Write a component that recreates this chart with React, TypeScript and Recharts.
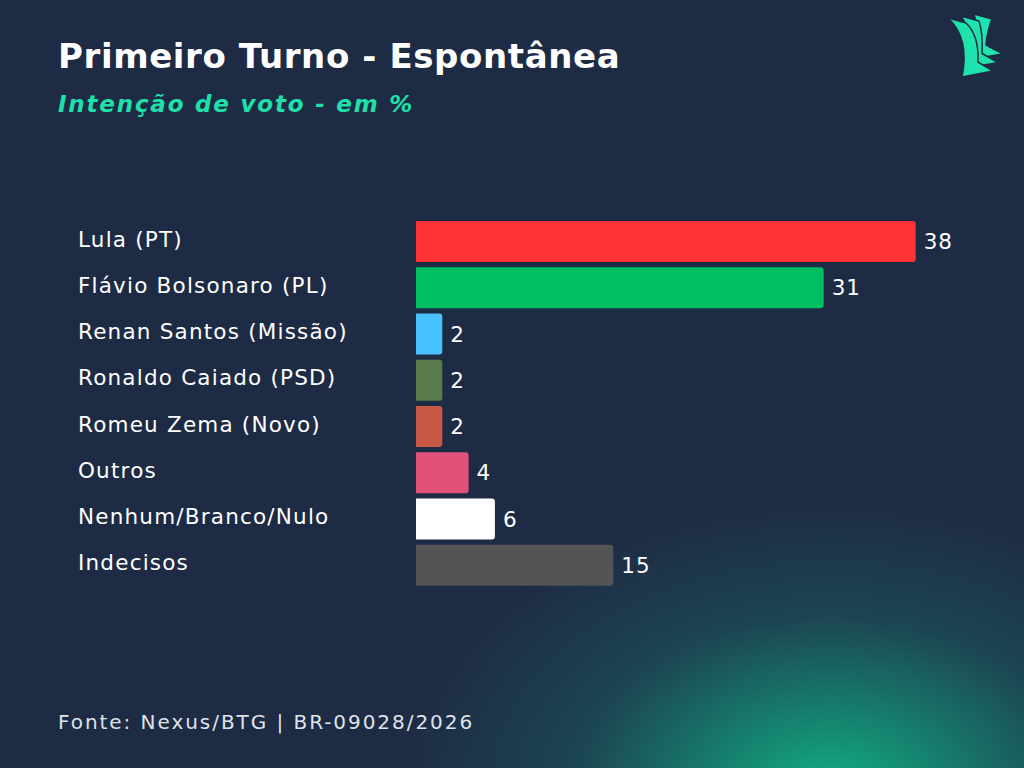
import React from "react";
import { BarChart, Bar, XAxis, YAxis, Cell, LabelList } from "recharts";

const categories = [
  "Lula (PT)",
  "Flávio Bolsonaro (PL)",
  "Renan Santos (Missão)",
  "Ronaldo Caiado (PSD)",
  "Romeu Zema (Novo)",
  "Outros",
  "Nenhum/Branco/Nulo",
  "Indecisos",
];
const values = [38, 31, 2, 2, 2, 4, 6, 15];
const barColors = [
  "#ff3333",
  "#00bf63",
  "#47c2ff",
  "#5a7a4b",
  "#c85a45",
  "#e0527a",
  "#ffffff",
  "#545454",
];
const title = "Primeiro Turno - Espontânea";
const subtitle = "Intenção de voto - em %";
const source = "Fonte: Nexus/BTG | BR-09028/2026";

const data = categories.map((name, i) => ({ name, value: values[i], color: barColors[i] }));

const FONT = "'DejaVu Sans', 'Open Sans', sans-serif";

const CategoryTick = (props: any) => {
  const { y, payload } = props;
  return (
    <text
      x={78}
      y={y - 2}
      textAnchor="start"
      dominantBaseline="central"
      fill="#ffffff"
      fontSize={21.5}
      fontFamily={FONT}
      style={{ letterSpacing: "1.2px" }}
    >
      {payload.value}
    </text>
  );
};

const Logo = () => {
  const sails = [2, 1, 0].map((k) => {
    const ax = 948 + 13 * k;
    const ay = 18 - 2 * k;
    const bx = 966 + 13 * k;
    const by = 23 - 2 * k;
    const cx = 962 + 5 * k;
    const cy = 77 - 9 * k;
    const dx = 993 + 5 * k;
    const dy = 71 - 8.5 * k;
    const ex = 978 + 4 * k;
    const ey = 62 - 8.5 * k;
    const d = `M${ax},${ay} Q${cx + 8},${ay + 20} ${cx},${cy} L${dx},${dy} L${ex},${ey} Q${ex + 1},${by + 12} ${bx},${by} Z`;
    return (
      <path key={k} d={d} fill="#1fe3ad" stroke="#1e2b44" strokeWidth={1.5} strokeLinejoin="round" />
    );
  });
  return (
    <svg width={1024} height={100} style={{ position: "absolute", left: 0, top: 0 }}>
      {sails}
    </svg>
  );
};

export default function App() {
  return (
    <div
      style={{
        position: "absolute",
        left: 0,
        top: 0,
        width: 1024,
        height: 768,
        overflow: "hidden",
        background:
          "radial-gradient(ellipse 430px 290px at 830px 790px, rgba(18,175,132,1) 0%, rgba(20,145,118,0.8) 28%, rgba(26,100,100,0.45) 60%, rgba(30,43,68,0) 100%), #1e2b44",
        fontFamily: FONT,
      }}
    >
      <Logo />
      <div
        style={{
          position: "absolute",
          left: 58,
          top: 35,
          fontSize: 34,
          fontWeight: 700,
          color: "#ffffff",
          lineHeight: "42px",
          whiteSpace: "nowrap",
          letterSpacing: "0.6px",
        }}
      >
        {title}
      </div>
      <div
        style={{
          position: "absolute",
          left: 58,
          top: 89,
          fontSize: 23,
          fontWeight: 700,
          fontStyle: "italic",
          color: "#1fe0a8",
          lineHeight: "30px",
          whiteSpace: "nowrap",
          letterSpacing: "1.8px",
        }}
      >
        {subtitle}
      </div>
      <div style={{ position: "absolute", left: 0, top: 0 }}>
        <BarChart
          width={1024}
          height={768}
          data={data}
          layout="vertical"
          margin={{ top: 218, right: 82, bottom: 180, left: 0 }}
        >
          <XAxis type="number" domain={[0, 40]} hide />
          <YAxis
            type="category"
            dataKey="name"
            width={416}
            axisLine={false}
            tickLine={false}
            tick={<CategoryTick />}
            interval={0}
          />
          <Bar dataKey="value" barSize={41} radius={[0, 3, 3, 0]} isAnimationActive={false}>
            {data.map((d, i) => (
              <Cell key={i} fill={d.color} />
            ))}
            <LabelList
              dataKey="value"
              position="right"
              offset={8}
              fill="#ffffff"
              fontSize={21.5}
              fontFamily={FONT}
              style={{ letterSpacing: "1px" }}
            />
          </Bar>
        </BarChart>
      </div>
      <div
        style={{
          position: "absolute",
          left: 58,
          top: 709,
          fontSize: 20,
          color: "#dfe3ea",
          lineHeight: "26px",
          whiteSpace: "nowrap",
          letterSpacing: "1.95px",
        }}
      >
        {source}
      </div>
    </div>
  );
}
